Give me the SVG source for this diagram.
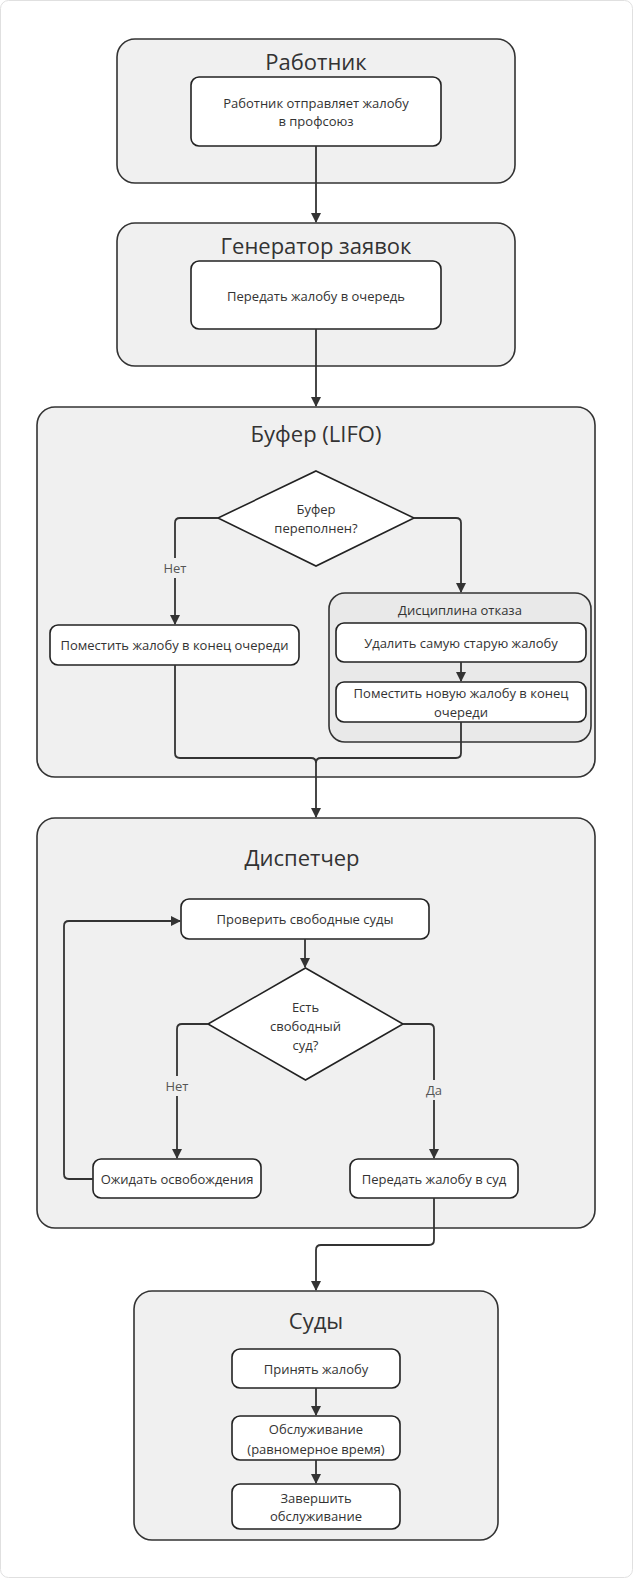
<svg xmlns="http://www.w3.org/2000/svg" width="633" height="1578" viewBox="0 0 633 1578">
<style>
text{font-family:"Open Sans","Noto Sans","Liberation Sans",sans-serif;fill:#333;text-anchor:middle;dominant-baseline:central}
.cl{fill:#f0f0f0;stroke:#333;stroke-width:1.6}
.sub{fill:#e9e9e9;stroke:#333;stroke-width:1.6}
.nd{fill:#fff;stroke:#222;stroke-width:1.6}
.t{font-size:22px}
.n{font-size:13px}
.st{font-size:13px}
.el{font-size:13px;fill:#555}
.lb{fill:#f0f0f0}
.e{fill:none;stroke:#333;stroke-width:1.8}
</style>
<defs>
<marker id="ah" viewBox="0 0 10 10" refX="9" refY="5" markerWidth="10" markerHeight="10" markerUnits="userSpaceOnUse" orient="auto">
<path d="M0,0 L10,5 L0,10 z" fill="#333"/>
</marker>
</defs>
<rect x="0.5" y="0.5" width="632" height="1577" rx="8" fill="#fff" stroke="#e0e0e0"/>

<g id="cluster-worker">
<rect class="cl" x="117" y="39" width="398" height="144" rx="18"/>
<text class="t" x="316" y="61">Работник</text>
</g>
<g id="node-send">
<rect class="nd" x="191" y="77" width="250" height="69" rx="8"/>
<text class="n" x="316" y="103">Работник отправляет жалобу</text>
<text class="n" x="316" y="121">в профсоюз</text>
</g>

<g id="cluster-generator">
<rect class="cl" x="117" y="223" width="398" height="143" rx="18"/>
<text class="t" x="316" y="245">Генератор заявок</text>
</g>
<g id="node-queue">
<rect class="nd" x="191" y="261" width="250" height="68" rx="8"/>
<text class="n" x="316" y="296">Передать жалобу в очередь</text>
</g>

<g id="cluster-buffer">
<rect class="cl" x="37" y="407" width="558" height="370" rx="18"/>
<text class="t" x="316" y="433">Буфер (LIFO)</text>
</g>
<g id="node-full">
<polygon class="nd" points="316,471 414,518 316,566 218,518"/>
<text class="n" x="316" y="509">Буфер</text>
<text class="n" x="316" y="528">переполнен?</text>
</g>
<g id="node-put">
<rect class="nd" x="50" y="625" width="249" height="40" rx="8"/>
<text class="n" x="174.5" y="645">Поместить жалобу в конец очереди</text>
</g>
<g id="cluster-reject">
<rect class="sub" x="329" y="593" width="262" height="149" rx="16"/>
<text class="st" x="460" y="610">Дисциплина отказа</text>
</g>
<g id="node-delete">
<rect class="nd" x="336" y="623" width="250" height="39" rx="8"/>
<text class="n" x="461" y="643">Удалить самую старую жалобу</text>
</g>
<g id="node-putnew">
<rect class="nd" x="336" y="682" width="250" height="40" rx="8"/>
<text class="n" x="461" y="693">Поместить новую жалобу в конец</text>
<text class="n" x="461" y="712">очереди</text>
</g>

<g id="cluster-dispatcher">
<rect class="cl" x="37" y="818" width="558" height="410" rx="18"/>
<text class="t" x="302" y="857">Диспетчер</text>
</g>
<g id="node-check">
<rect class="nd" x="181" y="899" width="248" height="40" rx="8"/>
<text class="n" x="305" y="919">Проверить свободные суды</text>
</g>
<g id="node-free">
<polygon class="nd" points="305.5,968 403,1024 305.5,1080 208,1024"/>
<text class="n" x="305.5" y="1007">Есть</text>
<text class="n" x="305.5" y="1026">свободный</text>
<text class="n" x="305.5" y="1045">суд?</text>
</g>
<g id="node-wait">
<rect class="nd" x="93" y="1159" width="168" height="39" rx="8"/>
<text class="n" x="177" y="1179">Ожидать освобождения</text>
</g>
<g id="node-pass">
<rect class="nd" x="350" y="1159" width="168" height="39" rx="8"/>
<text class="n" x="434" y="1179">Передать жалобу в суд</text>
</g>

<g id="cluster-courts">
<rect class="cl" x="134" y="1291" width="364" height="249" rx="18"/>
<text class="t" x="316" y="1320">Суды</text>
</g>
<g id="node-accept">
<rect class="nd" x="232" y="1349" width="168" height="39" rx="8"/>
<text class="n" x="316" y="1369">Принять жалобу</text>
</g>
<g id="node-service">
<rect class="nd" x="232" y="1416" width="168" height="44" rx="8"/>
<text class="n" x="316" y="1429">Обслуживание</text>
<text class="n" x="316" y="1449">(равномерное время)</text>
</g>
<g id="node-finish">
<rect class="nd" x="232" y="1484" width="168" height="45" rx="8"/>
<text class="n" x="316" y="1498">Завершить</text>
<text class="n" x="316" y="1516">обслуживание</text>
</g>

<g id="connectors">
<path class="e" d="M316,146 V222" marker-end="url(#ah)"/>
<path class="e" d="M316,329 V406" marker-end="url(#ah)"/>
<path class="e" d="M218,518 H180 Q175,518 175,523 V624" marker-end="url(#ah)"/>
<path class="e" d="M414,518 H456 Q461,518 461,523 V592" marker-end="url(#ah)"/>
<path class="e" d="M461,662 V681" marker-end="url(#ah)"/>
<path class="e" d="M175,665 V753 Q175,758 180,758 H311 Q316,758 316,763 V817" marker-end="url(#ah)"/>
<path class="e" d="M461,722 V753 Q461,758 456,758 H321 Q316,758 316,763"/>
<path class="e" d="M305,939 V967" marker-end="url(#ah)"/>
<path class="e" d="M208,1024 H182 Q177,1024 177,1029 V1158" marker-end="url(#ah)"/>
<path class="e" d="M403,1024 H429 Q434,1024 434,1029 V1158" marker-end="url(#ah)"/>
<path class="e" d="M93,1179 H69 Q64,1179 64,1174 V926 Q64,921 69,921 H180" marker-end="url(#ah)"/>
<path class="e" d="M434,1198 V1240 Q434,1245 429,1245 H321 Q316,1245 316,1250 V1290" marker-end="url(#ah)"/>
<path class="e" d="M316,1388 V1415" marker-end="url(#ah)"/>
<path class="e" d="M316,1460 V1483" marker-end="url(#ah)"/>
<g id="edge-labels">
<rect class="lb" x="160" y="558" width="30" height="20"/>
<text class="el" x="175" y="568">Нет</text>
<rect class="lb" x="162" y="1076" width="30" height="20"/>
<text class="el" x="177" y="1086">Нет</text>
<rect class="lb" x="422" y="1080" width="24" height="20"/>
<text class="el" x="434" y="1090">Да</text>
</g>
</g>
</svg>
